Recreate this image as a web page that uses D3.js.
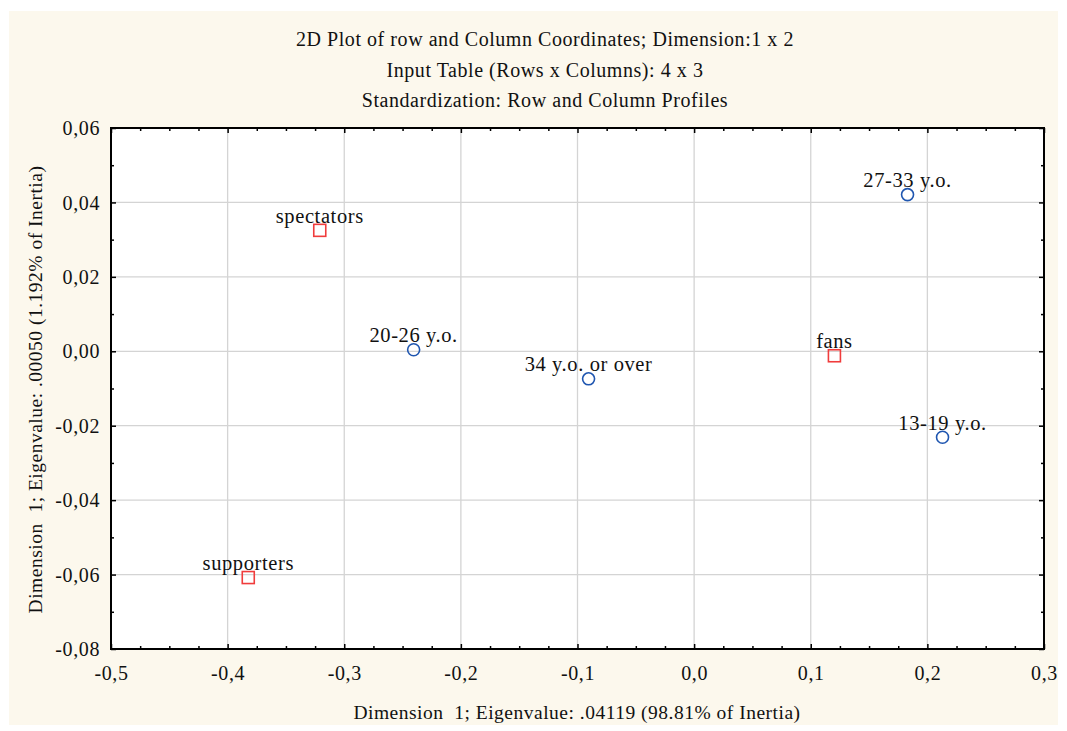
<!DOCTYPE html>
<html>
<head>
<meta charset="utf-8">
<script src="https://cdn.jsdelivr.net/npm/d3@7"></script>
<style>
  html, body { margin: 0; padding: 0; background: #ffffff; }
  svg { display: block; }
  text { font-family: "Liberation Serif", "Times New Roman", serif; fill: #111; }
</style>
</head>
<body>
<svg id="chart" width="1067" height="731"></svg>
<script>
// ---- data ----
const titleLines = [
  "2D Plot of row and Column Coordinates; Dimension:1 x 2",
  "Input Table (Rows x Columns): 4 x 3",
  "Standardization: Row and Column Profiles"
];
const xAxisTitle = "Dimension\u00a0\u00a01; Eigenvalue: .04119 (98.81% of Inertia)";
const yAxisTitle = "Dimension\u00a0\u00a01; Eigenvalue: .00050 (1.192% of Inertia)";

// column points (age groups) – blue circles
const colLabels = ["13-19 y.o.", "20-26 y.o.", "27-33 y.o.", "34 y.o. or over"];
const colX = [0.213, -0.2405, 0.183, -0.0905];
const colY = [-0.0231, 0.0004, 0.0421, -0.0074];

// row points (type) – red squares
const rowLabels = ["fans", "spectators", "supporters"];
const rowX = [0.1203, -0.321, -0.3823];
const rowY = [-0.0012, 0.0325, -0.0608];

const xTicks = [-0.5, -0.4, -0.3, -0.2, -0.1, 0.0, 0.1, 0.2, 0.3];
const yTicks = [-0.08, -0.06, -0.04, -0.02, 0.00, 0.02, 0.04, 0.06];

// ---- layout ----
const svg = d3.select("#chart");
const plot = { left: 111, right: 1044, top: 128, bottom: 649 };

svg.append("rect").attr("x", 9).attr("y", 11).attr("width", 1049).attr("height", 714)
  .attr("fill", "#fcf8ed");

const x = d3.scaleLinear().domain([-0.5, 0.3]).range([plot.left, plot.right]);
const y = d3.scaleLinear().domain([-0.08, 0.06]).range([plot.bottom, plot.top]);

svg.append("rect").attr("x", plot.left).attr("y", plot.top)
  .attr("width", plot.right - plot.left).attr("height", plot.bottom - plot.top)
  .attr("fill", "#ffffff");

// grid
const grid = svg.append("g").attr("stroke", "#d4d4d4").attr("stroke-width", 1.3);
xTicks.slice(1, -1).forEach(t => grid.append("line")
  .attr("x1", x(t)).attr("x2", x(t)).attr("y1", plot.top).attr("y2", plot.bottom));
yTicks.slice(1, -1).forEach(t => grid.append("line")
  .attr("x1", plot.left).attr("x2", plot.right).attr("y1", y(t)).attr("y2", y(t)));

// minor tick values
const xMinor = d3.range(-0.5, 0.3001, 0.025).filter(v => Math.abs(Math.round(v * 10) - v * 10) > 1e-6);
const yMinor = d3.range(-0.08, 0.0601, 0.01).filter(v => Math.abs(Math.round(v * 50) - v * 50) > 1e-6);

const fmtX = d => d3.format(".1f")(d).replace("−", "-").replace(".", ",");
const fmtY = d => d3.format(".2f")(Math.abs(d) < 1e-9 ? 0 : d).replace("−", "-").replace(".", ",");

// axes (inward ticks)
const bottomAxis = d3.axisBottom(x).tickValues(xTicks).tickSize(-5).tickPadding(0).tickFormat(fmtX);
const gb = svg.append("g").attr("transform", `translate(0,${plot.bottom})`).call(bottomAxis);
gb.selectAll("text").attr("font-size", 20).attr("letter-spacing", 0.6).attr("dy", 0).attr("y", 31);

const topAxis = d3.axisTop(x).tickValues(xTicks).tickSize(-5).tickFormat("");
svg.append("g").attr("transform", `translate(0,${plot.top})`).call(topAxis);

const leftAxis = d3.axisLeft(y).tickValues(yTicks).tickSize(-5).tickPadding(0).tickFormat(fmtY);
const gl = svg.append("g").attr("transform", `translate(${plot.left},0)`).call(leftAxis);
gl.selectAll("text").attr("font-size", 20).attr("letter-spacing", 0.6).attr("x", -11).attr("dy", "0.33em");

const rightAxis = d3.axisRight(y).tickValues(yTicks).tickSize(-5).tickFormat("");
svg.append("g").attr("transform", `translate(${plot.right},0)`).call(rightAxis);

// minor ticks
svg.append("g").attr("transform", `translate(0,${plot.bottom})`)
  .call(d3.axisBottom(x).tickValues(xMinor).tickSize(-3).tickFormat(""));
svg.append("g").attr("transform", `translate(0,${plot.top})`)
  .call(d3.axisTop(x).tickValues(xMinor).tickSize(-3).tickFormat(""));
svg.append("g").attr("transform", `translate(${plot.left},0)`)
  .call(d3.axisLeft(y).tickValues(yMinor).tickSize(-3).tickFormat(""));
svg.append("g").attr("transform", `translate(${plot.right},0)`)
  .call(d3.axisRight(y).tickValues(yMinor).tickSize(-3).tickFormat(""));

svg.selectAll(".domain").remove();
svg.selectAll(".tick line").attr("stroke", "#000").attr("stroke-width", 1.5);
svg.selectAll(".tick text").attr("fill", "#111").attr("font-family", "Liberation Serif, Times New Roman, serif");

// frame
svg.append("rect").attr("x", plot.left).attr("y", plot.top)
  .attr("width", plot.right - plot.left).attr("height", plot.bottom - plot.top)
  .attr("fill", "none").attr("stroke", "#000").attr("stroke-width", 2);

// titles
const titleY = [46, 77, 107];
titleLines.forEach((t, i) => svg.append("text")
  .attr("x", 545).attr("y", titleY[i]).attr("text-anchor", "middle")
  .attr("font-size", 20).attr("letter-spacing", 0.55).text(t));

svg.append("text").attr("x", 577).attr("y", 719).attr("text-anchor", "middle")
  .attr("font-size", 19.5).attr("letter-spacing", 0.5).text(xAxisTitle);

svg.append("text").attr("transform", `translate(42,${(plot.top + plot.bottom) / 2 + 1}) rotate(-90)`)
  .attr("text-anchor", "middle").attr("font-size", 19.5).attr("letter-spacing", 0.5).text(yAxisTitle);

// points
const cols = colLabels.map((l, i) => ({ label: l, x: colX[i], y: colY[i] }));
const rows = rowLabels.map((l, i) => ({ label: l, x: rowX[i], y: rowY[i] }));

svg.append("g").selectAll("circle").data(cols).join("circle")
  .attr("cx", d => x(d.x)).attr("cy", d => y(d.y)).attr("r", 6)
  .attr("fill", "none").attr("stroke", "#1f56b0").attr("stroke-width", 1.6);

svg.append("g").selectAll("rect").data(rows).join("rect")
  .attr("x", d => x(d.x) - 6).attr("y", d => y(d.y) - 6).attr("width", 12).attr("height", 12)
  .attr("fill", "none").attr("stroke", "#f03c3c").attr("stroke-width", 1.6);

svg.append("g").selectAll("text").data(cols.concat(rows)).join("text")
  .attr("x", d => x(d.x)).attr("y", d => y(d.y) - 7.5).attr("text-anchor", "middle")
  .attr("font-size", 20.5).attr("letter-spacing", 0.6).text(d => d.label);
</script>
</body>
</html>
